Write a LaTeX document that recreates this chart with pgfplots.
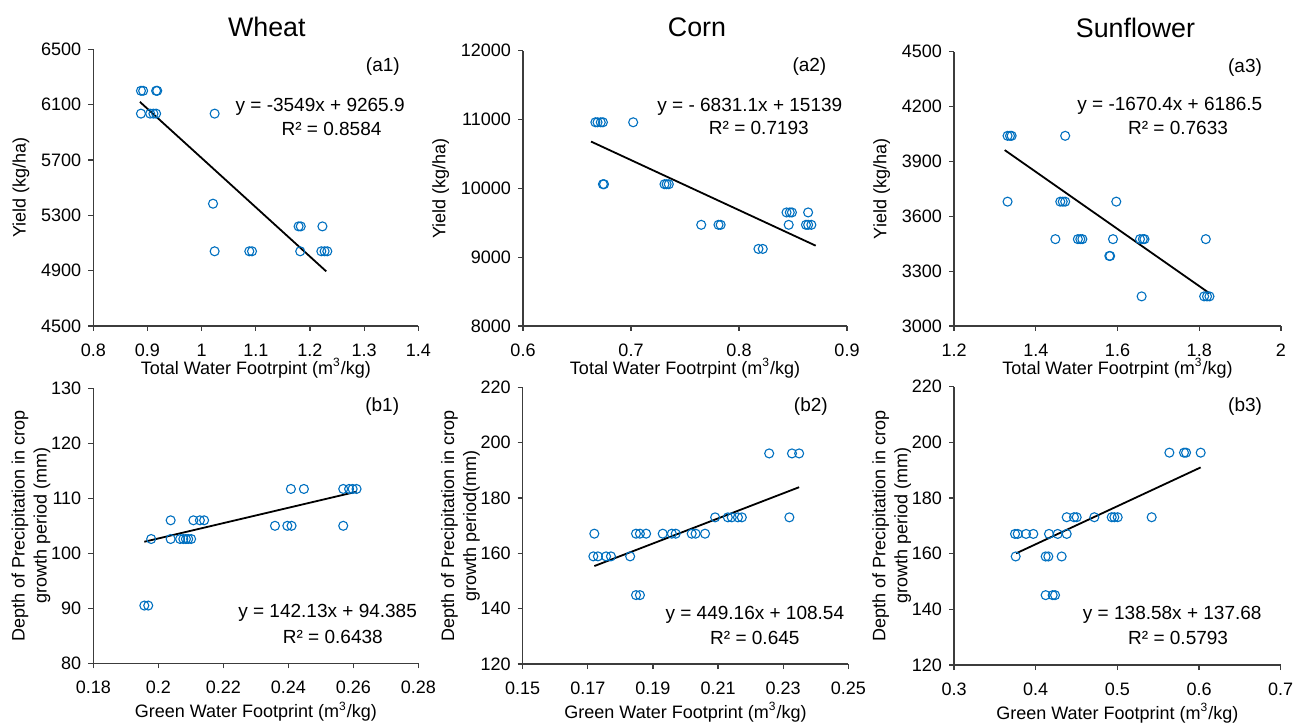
\documentclass[border=0pt]{standalone}
\usepackage{pgfplots}
\pgfplotsset{compat=1.18}
\usepackage{fontspec}
\setmainfont{Liberation Sans}
\definecolor{ptblue}{RGB}{0,112,192}
\definecolor{axgray}{RGB}{60,60,60}

\pgfplotstableread{
x y
0.888 6200
0.892 6200
0.916 6200
0.918 6200
0.888 6035
0.905 6035
0.911 6035
0.916 6035
1.024 6035
1.021 5384
1.024 5040
1.088 5040
1.093 5040
1.179 5220
1.183 5220
1.182 5040
1.223 5220
1.221 5040
1.227 5040
1.232 5040
}\tabAone
\pgfplotstableread{
x y
0.667 10960
0.669 10960
0.672 10960
0.674 10960
0.702 10960
0.674 10060
0.675 10060
0.731 10060
0.733 10060
0.735 10060
0.765 9470
0.781 9470
0.783 9470
0.818 9120
0.822 9120
0.844 9650
0.847 9650
0.849 9650
0.864 9650
0.846 9470
0.862 9470
0.864 9470
0.867 9470
}\tabAtwo
\pgfplotstableread{
x y
1.331 4040
1.337 4040
1.341 4040
1.472 4040
1.331 3680
1.460 3680
1.466 3680
1.472 3680
1.597 3680
1.448 3475
1.503 3475
1.509 3475
1.514 3475
1.589 3475
1.655 3475
1.662 3475
1.666 3475
1.816 3475
1.580 3383
1.582 3383
1.659 3162
1.812 3162
1.819 3162
1.825 3162
}\tabAthree
\pgfplotstableread{
x y
0.1957 90.5
0.1969 90.5
0.1978 102.6
0.2038 102.6
0.2038 106.0
0.2067 102.6
0.2077 102.6
0.2085 102.6
0.2092 102.6
0.2101 102.6
0.2108 106.0
0.2128 106.0
0.2141 106.0
0.2359 105.0
0.2397 105.0
0.2410 105.0
0.2408 111.7
0.2448 111.7
0.2569 111.7
0.2587 111.7
0.2598 111.7
0.2610 111.7
0.2569 105.0
}\tabBone
\pgfplotstableread{
x y
0.1720 167.1
0.1717 158.9
0.1731 158.9
0.1756 158.9
0.1771 158.9
0.1830 158.9
0.1848 167.1
0.1860 167.1
0.1879 167.1
0.1848 144.9
0.1860 144.9
0.1930 167.1
0.1958 167.1
0.1970 167.1
0.2019 167.1
0.2031 167.1
0.2060 167.1
0.2091 173.0
0.2130 173.0
0.2142 173.0
0.2161 173.0
0.2173 173.0
0.2257 196.1
0.2319 173.0
0.2327 196.1
0.2349 196.1
}\tabBtwo
\pgfplotstableread{
x y
0.3755 159.0
0.3747 167.1
0.3780 167.1
0.3882 167.1
0.3971 167.1
0.4163 167.1
0.4269 167.1
0.4380 167.1
0.4122 159.0
0.4155 159.0
0.4318 159.0
0.4122 145.1
0.4208 145.1
0.4237 145.1
0.4380 173.1
0.4469 173.1
0.4502 173.1
0.4718 173.1
0.4931 173.1
0.4963 173.1
0.5004 173.1
0.5420 173.1
0.5637 196.3
0.5816 196.3
0.5841 196.3
0.6020 196.3
}\tabBthree

\pgfplotsset{
  myax/.style={
    scale only axis, anchor=south west,
    axis x line=bottom, axis y line=left,
    axis line style={-, draw=axgray, line width=0.6pt},
    tick style={draw=axgray, line width=0.6pt},
    tick align=outside, major tick length=2.5pt,
    ticklabel style={font=\fontsize{9}{10}\selectfont},
    xticklabel style={yshift=-3pt},
    label style={font=\fontsize{9}{11}\selectfont},
    clip=false, scaled ticks=false,
    /pgf/number format/1000 sep={},
    /pgf/number format/assume math mode=true,
    enlargelimits=false,
  },
  toprow/.style={ylabel shift=-1pt, xlabel shift=-6pt},
  botrow/.style={ylabel shift=-6.5pt, xlabel shift=-3pt, ylabel style={align=center}},
  pts/.style={only marks, mark=o, mark size=2.25pt, draw=ptblue, mark options={line width=0.55pt, draw=ptblue}},
  fit/.style={black, line width=0.9pt, no marks},
}
\tikzset{
  ann/.style={font=\fontsize{9.5}{11}\selectfont},
  ttl/.style={font=\fontsize{13.4}{15}\selectfont},
}

\begin{document}
\begin{tikzpicture}[x=1pt,y=1pt]
\useasboundingbox (0,0) rectangle (649.5,362);

% ---------- a1 Wheat ----------
\begin{axis}[myax, toprow, at={(46.65pt,199pt)}, width=162.5pt, height=138.35pt,
  xmin=0.8, xmax=1.4, ymin=4500, ymax=6500,
  xtick={0.8,0.9,1,1.1,1.2,1.3,1.4}, xticklabels={0.8,0.9,1,1.1,1.2,1.3,1.4},
  ytick={4500,4900,5300,5700,6100,6500},
  xlabel={Total Water Footrpint (m\textsuperscript{3}/kg)},
  ylabel={Yield (kg/ha)}]
\addplot[pts] table {\tabAone};
\addplot[fit] coordinates {(0.886,6120) (1.230,4895)};
\node[ann] at (rel axis cs:0.891,0.936) {(a1)};
\node[ann] at (rel axis cs:0.698,0.793) {y = -3549x + 9265.9};
\node[ann] at (rel axis cs:0.733,0.711) {R² = 0.8584};
\node[ttl] at (rel axis cs:0.534,1.080) {Wheat};
\end{axis}

% ---------- a2 Corn ----------
\begin{axis}[myax, toprow, at={(261.5pt,199pt)}, width=162pt, height=137.65pt,
  xmin=0.6, xmax=0.9, ymin=8000, ymax=12000,
  xtick={0.6,0.7,0.8,0.9}, xticklabels={0.6,0.7,0.8,0.9},
  ytick={8000,9000,10000,11000,12000},
  xlabel={Total Water Footrpint (m\textsuperscript{3}/kg)},
  ylabel={Yield (kg/ha)}]
\addplot[pts] table {\tabAtwo};
\addplot[fit] coordinates {(0.663,10680) (0.871,9167)};
\node[ann] at (rel axis cs:0.884,0.942) {(a2)};
\node[ann] at (rel axis cs:0.700,0.797) {y = - 6831.1x + 15139};
\node[ann] at (rel axis cs:0.728,0.718) {R² = 0.7193};
\node[ttl] at (rel axis cs:0.537,1.086) {Corn};
\end{axis}

% ---------- a3 Sunflower ----------
\begin{axis}[myax, toprow, at={(477pt,199pt)}, width=163.5pt, height=137.15pt,
  xmin=1.2, xmax=2.0, ymin=3000, ymax=4500,
  xtick={1.2,1.4,1.6,1.8,2.0}, xticklabels={1.2,1.4,1.6,1.8,2},
  ytick={3000,3300,3600,3900,4200,4500},
  xlabel={Total Water Footrpint (m\textsuperscript{3}/kg)},
  ylabel={Yield (kg/ha)}]
\addplot[pts] table {\tabAthree};
\addplot[fit] coordinates {(1.324,3962) (1.825,3179)};
\node[ann] at (rel axis cs:0.890,0.943) {(a3)};
\node[ann] at (rel axis cs:0.660,0.803) {y = -1670.4x + 6186.5};
\node[ann] at (rel axis cs:0.685,0.721) {R² = 0.7633};
\node[ttl] at (rel axis cs:0.555,1.086) {Sunflower};
\end{axis}

% ---------- b1 ----------
\begin{axis}[myax, botrow, at={(46.65pt,30.35pt)}, width=162.5pt, height=137.5pt,
  xmin=0.18, xmax=0.28, ymin=80, ymax=130,
  xtick={0.18,0.2,0.22,0.24,0.26,0.28}, xticklabels={0.18,0.2,0.22,0.24,0.26,0.28},
  ytick={80,90,100,110,120,130},
  xlabel={Green Water Footprint (m\textsuperscript{3}/kg)},
  ylabel={Depth of Precipitation in crop\\growth period (mm)}]
\addplot[pts] table {\tabBone};
\addplot[fit] coordinates {(0.1957,102.1) (0.2610,111.2)};
\node[ann] at (rel axis cs:0.889,0.933) {(b1)};
\node[ann] at (rel axis cs:0.721,0.185) {y = 142.13x + 94.385};
\node[ann] at (rel axis cs:0.737,0.097) {R² = 0.6438};
\end{axis}

% ---------- b2 ----------
\begin{axis}[myax, botrow, at={(261.35pt,30pt)}, width=162.8pt, height=138.35pt,
  xmin=0.15, xmax=0.25, ymin=120, ymax=220,
  xtick={0.15,0.17,0.19,0.21,0.23,0.25}, xticklabels={0.15,0.17,0.19,0.21,0.23,0.25},
  ytick={120,140,160,180,200,220},
  xlabel={Green Water Footprint (m\textsuperscript{3}/kg)},
  ylabel={Depth of Precipitation in crop\\growth period(mm)}]
\addplot[pts] table {\tabBtwo};
\addplot[fit] coordinates {(0.1720,155.4) (0.2349,183.9)};
\node[ann] at (rel axis cs:0.885,0.932) {(b2)};
\node[ann] at (rel axis cs:0.713,0.177) {y = 449.16x + 108.54};
\node[ann] at (rel axis cs:0.713,0.093) {R² = 0.645};
\end{axis}

% ---------- b3 ----------
\begin{axis}[myax, botrow, at={(477pt,29.5pt)}, width=163.35pt, height=139.15pt,
  xmin=0.3, xmax=0.7, ymin=120, ymax=220,
  xtick={0.3,0.4,0.5,0.6,0.7}, xticklabels={0.3,0.4,0.5,0.6,0.7},
  ytick={120,140,160,180,200,220},
  xlabel={Green Water Footprint (m\textsuperscript{3}/kg)},
  ylabel={Depth of Precipitation in crop\\growth period (mm)}]
\addplot[pts] table {\tabBthree};
\addplot[fit] coordinates {(0.3759,160.1) (0.6020,191.0)};
\node[ann] at (rel axis cs:0.891,0.928) {(b3)};
\node[ann] at (rel axis cs:0.668,0.180) {y = 138.58x + 137.68};
\node[ann] at (rel axis cs:0.686,0.096) {R² = 0.5793};
\end{axis}
\end{tikzpicture}
\end{document}
